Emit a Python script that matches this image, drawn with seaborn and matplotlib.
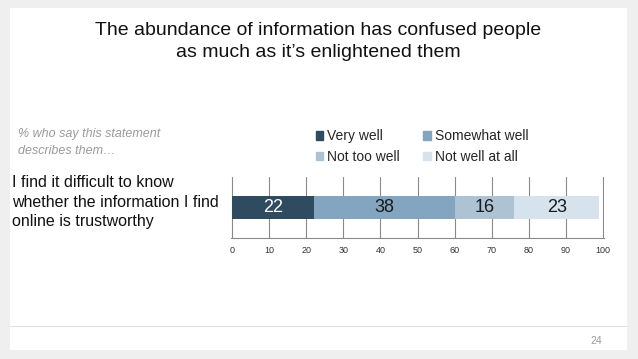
import matplotlib
matplotlib.use("Agg")
import matplotlib.pyplot as plt
import matplotlib.patches as mpatches
import pandas as pd
import seaborn as sns

# Dados
categorias = ["Very well", "Somewhat well", "Not too well", "Not well at all"]
valores = [22, 38, 16, 23]
cores = ["#2f4b60", "#84a5bf", "#adc2d3", "#d6e2ec"]
cores_texto = ["white", "#1a1a1a", "#1a1a1a", "#1a1a1a"]
pergunta = "I find it difficult to know\nwhether the information I find\nonline is trustworthy"
ticks_x = [0, 10, 20, 30, 40, 50, 60, 70, 80, 90, 100]

sns.set_theme(style="white")
plt.rcParams['font.family'] = ['Liberation Sans', 'DejaVu Sans']

W, H = 638, 359
fig = plt.figure(figsize=(W / 100, H / 100), dpi=100, facecolor="#efefef")

# slide branco
fig.patches.append(mpatches.Rectangle((10 / W, 1 - 350 / H), 617 / W, 342 / H,
                                      transform=fig.transFigure, facecolor="white",
                                      edgecolor="none", zorder=-10))
fig.lines.append(plt.Line2D([10 / W, 627 / W], [1 - 326 / H, 1 - 326 / H],
                            transform=fig.transFigure, color="#e2e2e2", lw=0.8,
                            zorder=-5))

ax = fig.add_axes([231 / W, 1 - 238 / H, 373 / W, 61 / H])
ax.set_facecolor("none")
ax.set_zorder(5)

# barras empilhadas: desenha cumulativos do maior para o menor
acum = pd.Series(valores).cumsum().tolist()
for i in reversed(range(len(valores))):
    df = pd.DataFrame({"item": [pergunta], "valor": [acum[i]]})
    sns.barplot(data=df, x="valor", y="item", color=cores[i], saturation=1,
                width=0.39, ax=ax, zorder=3, linewidth=0, edgecolor="none")

esquerda = 0
for v, c in zip(valores, cores_texto):
    ax.text(esquerda + v / 2, 0, str(v), ha="center", va="center",
            color=c, fontsize=13, zorder=4)
    esquerda += v

ax.set_xlim(-0.25, 100.25)
ax.set_xticks(ticks_x)
ax.set_xticklabels([str(t) for t in ticks_x], fontsize=6.5, color="#333333")
ax.set_yticks([])
ax.set_xlabel("")
ax.set_ylabel("")
ax.grid(axis="x", color="#8a8a8a", lw=0.8, zorder=1)
ax.set_axisbelow(True)
for s in ["top", "right", "left"]:
    ax.spines[s].set_visible(False)
ax.spines["bottom"].set_color("#8a8a8a")
ax.spines["bottom"].set_linewidth(0.8)
ax.tick_params(axis="x", length=0, pad=6)

# legenda (ordem por linhas)
handles = [mpatches.Patch(color=c, label=l) for c, l in zip(cores, categorias)]
handles = [handles[0], handles[2], handles[1], handles[3]]
fig.legend(handles=handles, ncol=2, loc="center", bbox_to_anchor=(422 / W, 1 - 146.5 / H),
           frameon=False, fontsize=10, handlelength=0.55, handleheight=0.55,
           handletextpad=0.3, columnspacing=1.65, labelspacing=0.45)

# textos
fig.text(318 / W, 1 - 41.5 / H,
         "The abundance of information has confused people\nas much as it\u2019s enlightened them",
         ha="center", va="center", fontsize=14, color="#111111", linespacing=1.45)
fig.text(18 / W, 1 - 142.5 / H, "% who say this statement\ndescribes them\u2026",
         ha="left", va="center", fontsize=9, style="italic", color="#9a9a9a",
         linespacing=1.45)
fig.text(12 / W, 1 - 202 / H, pergunta, ha="left", va="center", fontsize=11.5,
         color="#111111", linespacing=1.38)
fig.text(596 / W, 1 - 340.5 / H, "24", ha="center", va="center", fontsize=7.5,
         color="#999999")

fig.savefig("out.png", dpi=100, facecolor=fig.get_facecolor())
